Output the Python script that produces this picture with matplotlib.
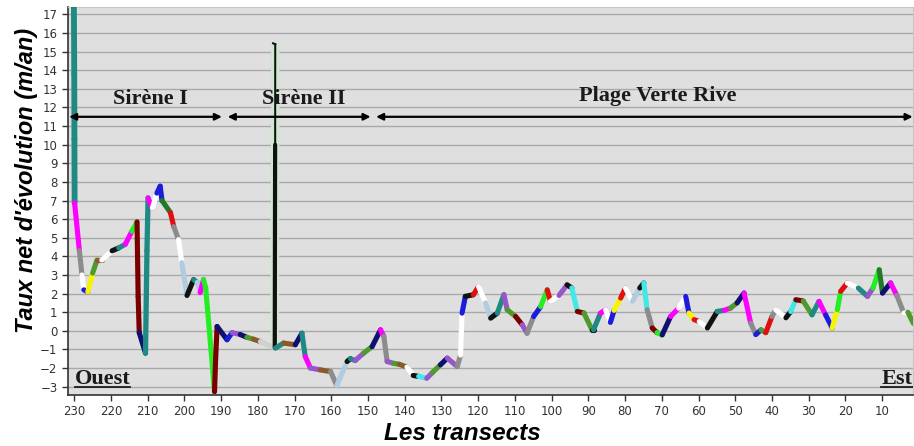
import matplotlib
matplotlib.use("Agg")
import matplotlib.pyplot as plt
import numpy as np
from matplotlib.collections import LineCollection

# ---- data (transect number, net rate m/an) ----
transects = [230.1, 230.0, 229.95, 229.9, 228.6, 227.9, 227.4, 226.3, 225.0, 223.8,
             222.5, 219.7, 217.9, 216.1, 214.3, 212.9, 212.6, 212.3, 210.6, 210.2,
             209.9, 208.7, 207.5, 206.6, 206.1, 203.8, 202.9, 201.6, 200.7, 199.3,
             197.5, 196.5, 195.7, 194.8, 194.2, 191.8, 191.5, 191.1, 188.4, 187.0,
             184.8, 183.0, 181.2, 179.3, 175.4, 175.35, 175.3, 175.25, 175.2, 173.0,
             169.8, 168.0, 167.1, 165.7, 163.0, 160.2, 158.5, 155.7, 154.8, 153.5,
             151.2, 148.9, 146.6, 145.7, 144.8, 143.0, 141.5, 139.4, 137.7, 136.2,
             134.0, 132.5, 130.3, 128.4, 125.7, 124.8, 124.4, 123.5, 121.3, 119.9,
             118.0, 116.6, 114.8, 113.0, 112.1, 109.8, 108.0, 106.7, 104.9, 103.0,
             101.2, 100.3, 98.0, 95.8, 94.5, 93.0, 91.2, 89.0, 88.6, 86.7,
             85.3, 84.0, 83.0, 81.2, 79.9, 78.0, 76.0, 74.9, 74.0, 72.6,
             71.3, 69.9, 67.6, 65.4, 63.5, 62.6, 61.2, 59.8, 57.6, 54.9,
             53.0, 51.3, 49.5, 47.6, 45.8, 44.4, 43.0, 41.7, 40.0, 39.0,
             36.2, 34.9, 33.5, 31.5, 29.1, 27.2, 25.4, 23.6, 22.2, 21.3,
             19.5, 16.5, 14.0, 12.5, 10.8, 9.9, 7.7, 6.0, 4.1, 3.0, 1.5]
rates = [17.8, 13.8, 10.3, 6.87, 4.3, 3.0, 2.2, 2.1, 3.1, 3.8,
         3.8, 4.3, 4.45, 4.65, 5.35, 5.85, 1.85, -0.1, -1.2, 4.3,
         7.14, 6.6, 7.4, 7.77, 7.0, 6.35, 5.6, 4.9, 3.66, 1.9,
         2.75, 2.6, 2.05, 2.75, 2.3, -3.27, -1.5, 0.23, -0.48, -0.1,
         -0.2, -0.35, -0.45, -0.58, -0.93, 4.5, 10.0, 15.4, -0.93, -0.66,
         -0.75, -0.13, -1.38, -2.0, -2.1, -2.19, -2.95, -1.65, -1.5, -1.6,
         -1.2, -0.85, 0.05, -0.3, -1.65, -1.75, -1.8, -1.95, -2.4, -2.45,
         -2.55, -2.25, -1.83, -1.47, -1.92, -1.3, 0.95, 1.85, 1.94, 2.38,
         1.5, 0.68, 0.95, 1.94, 1.13, 0.77, 0.32, -0.13, 0.77, 1.3,
         2.2, 1.58, 1.9, 2.47, 2.3, 1.04, 0.95, 0.05, 0.05, 0.95,
         1.13, 0.45, 1.1, 1.76, 2.3, 1.58, 2.3, 2.57, 1.13, 0.15,
         -0.1, -0.22, 0.77, 1.22, 1.85, 0.95, 0.6, 0.5, 0.15, 1.04,
         1.1, 1.22, 1.5, 2.03, 0.41, -0.2, 0.05, -0.1, 0.77, 1.13,
         0.7, 1.04, 1.67, 1.6, 0.86, 1.58, 0.86, 0.15, 1.13, 2.12,
         2.57, 2.3, 1.85, 2.3, 3.28, 2.03, 2.57, 1.9, 0.95, 1.0, 0.4]

segment_colors = ("T T T M G W B Y O Br W K T M L DR DR N T T "
                  "M W B B DG R G W LB K T LB M L L DR DR N B P "
                  "N O Br S K K K K T Br N T M P Br G LB K T P "
                  "O N M G P O Br W K C P O N P G W B K R W "
                  "LB K T P O DR P G B L R W P K C DR O K T M "
                  "W B Y R W LB K C G DR L N M W B Y R W K T "
                  "M O N M G B O R G W K C DR O T M B Y L R "
                  "W T P L DG N M G W O").split()

palette = {"T": "#1f8a84", "M": "#ff00ff", "G": "#8c8c8c", "W": "#ffffff",
           "B": "#1c1cdc", "Y": "#f5f500", "O": "#4f9a2c", "Br": "#8b5a2b",
           "DR": "#7a0000", "N": "#101070", "K": "#111111", "LB": "#b0cce0",
           "R": "#e01010", "P": "#9955cc", "C": "#40e8e8", "L": "#22ee22",
           "DG": "#207a2a", "S": "#d0d0d0"}

xticks = list(range(230, 9, -10))
yticks = list(range(-3, 18))

# ---- figure ----
W, H = 914, 446
fig = plt.figure(figsize=(W / 100, H / 100), dpi=100)
ax = fig.add_axes([68 / W, 1 - 395 / H, (913 - 68) / W, (395 - 7) / H])
ax.set_facecolor("#dfdfdf")
ax.set_xlim(231.7, 1.6)
ax.set_ylim(-3.45, 17.4)

for y in yticks:
    ax.axhline(y, color="#a9a9a9", lw=1.0, zorder=1)

# light halo behind the spike near transect 175
ax.plot([transects[44], transects[47]], [rates[44], rates[47]],
        color="#cfe6cf", lw=6, solid_capstyle="butt", zorder=2)

pts = np.column_stack([transects, rates])
segs = [pts[i:i + 2] for i in range(len(pts) - 1)]
cols = [palette[c] for c in segment_colors]
widths = [3.7] * len(segs)
widths[0] = widths[1] = widths[2] = 4.2
widths[18] = widths[19] = 3.8
widths[44] = widths[45] = 3.0
widths[46] = widths[47] = 1.2
lc = LineCollection(segs, colors=cols, linewidths=widths, capstyle="round",
                    joinstyle="round", zorder=3)
ax.add_collection(lc)
# small tick at the top of the spike
ax.plot([transects[47] + 0.6, transects[47]], [rates[47] + 0.05, rates[47]],
        color="#111111", lw=1.5, zorder=4)

# ---- axes styling ----
ax.set_xticks(xticks)
ax.set_yticks(yticks)
ax.tick_params(axis="both", labelsize=8.5, colors="#333333", length=4, width=1)
ax.tick_params(axis="x", pad=3)
for s in ["left", "bottom"]:
    ax.spines[s].set_color("#333333")
    ax.spines[s].set_linewidth(1.2)
for s in ["top", "right"]:
    ax.spines[s].set_color("#c8c8c8")

fig.text(27 / W, 1 - 180 / H, "Taux net d'évolution (m/an)", rotation=90,
         ha="center", va="center", fontsize=17, fontweight="bold",
         fontstyle="italic", family="Liberation Sans")
fig.text(462 / W, 1 - 434 / H, "Les transects", ha="center", va="center",
         fontsize=17.5, fontweight="bold", fontstyle="italic",
         family="Liberation Sans")

# ---- zone arrows and labels ----
arrow_y = 11.5
arrow_kw = dict(arrowstyle="<|-|>", color="black", lw=1.6, mutation_scale=10,
                shrinkA=0, shrinkB=0)
for x0, x1 in [(231.4, 189.8), (188.2, 149.3), (147.8, 1.7)]:
    ax.annotate("", xy=(x1, arrow_y), xytext=(x0, arrow_y),
                arrowprops=arrow_kw, zorder=5)

serif = dict(family="Liberation Serif", fontweight="bold", fontsize=16,
             color="#1a1a1a")
ax.text(209.3, 12.45, "Sirène I", ha="center", va="center", **serif)
ax.text(167.6, 12.45, "Sirène II", ha="center", va="center", **serif)
ax.text(71.0, 12.6, "Plage Verte Rive", ha="center", va="center", **serif)

ax.text(229.9, -2.6, "Ouest", ha="left", va="center", **serif)
ax.plot([229.9, 214.9], [-3.02, -3.02], color="#1a1a1a", lw=1.3, zorder=5)
ax.text(1.6, -2.6, "Est", ha="right", va="center", clip_on=False, **serif)
ax.plot([10.3, 1.6], [-3.02, -3.02], color="#1a1a1a", lw=1.3, zorder=5)

fig.savefig("out.png", dpi=100, facecolor="white")
